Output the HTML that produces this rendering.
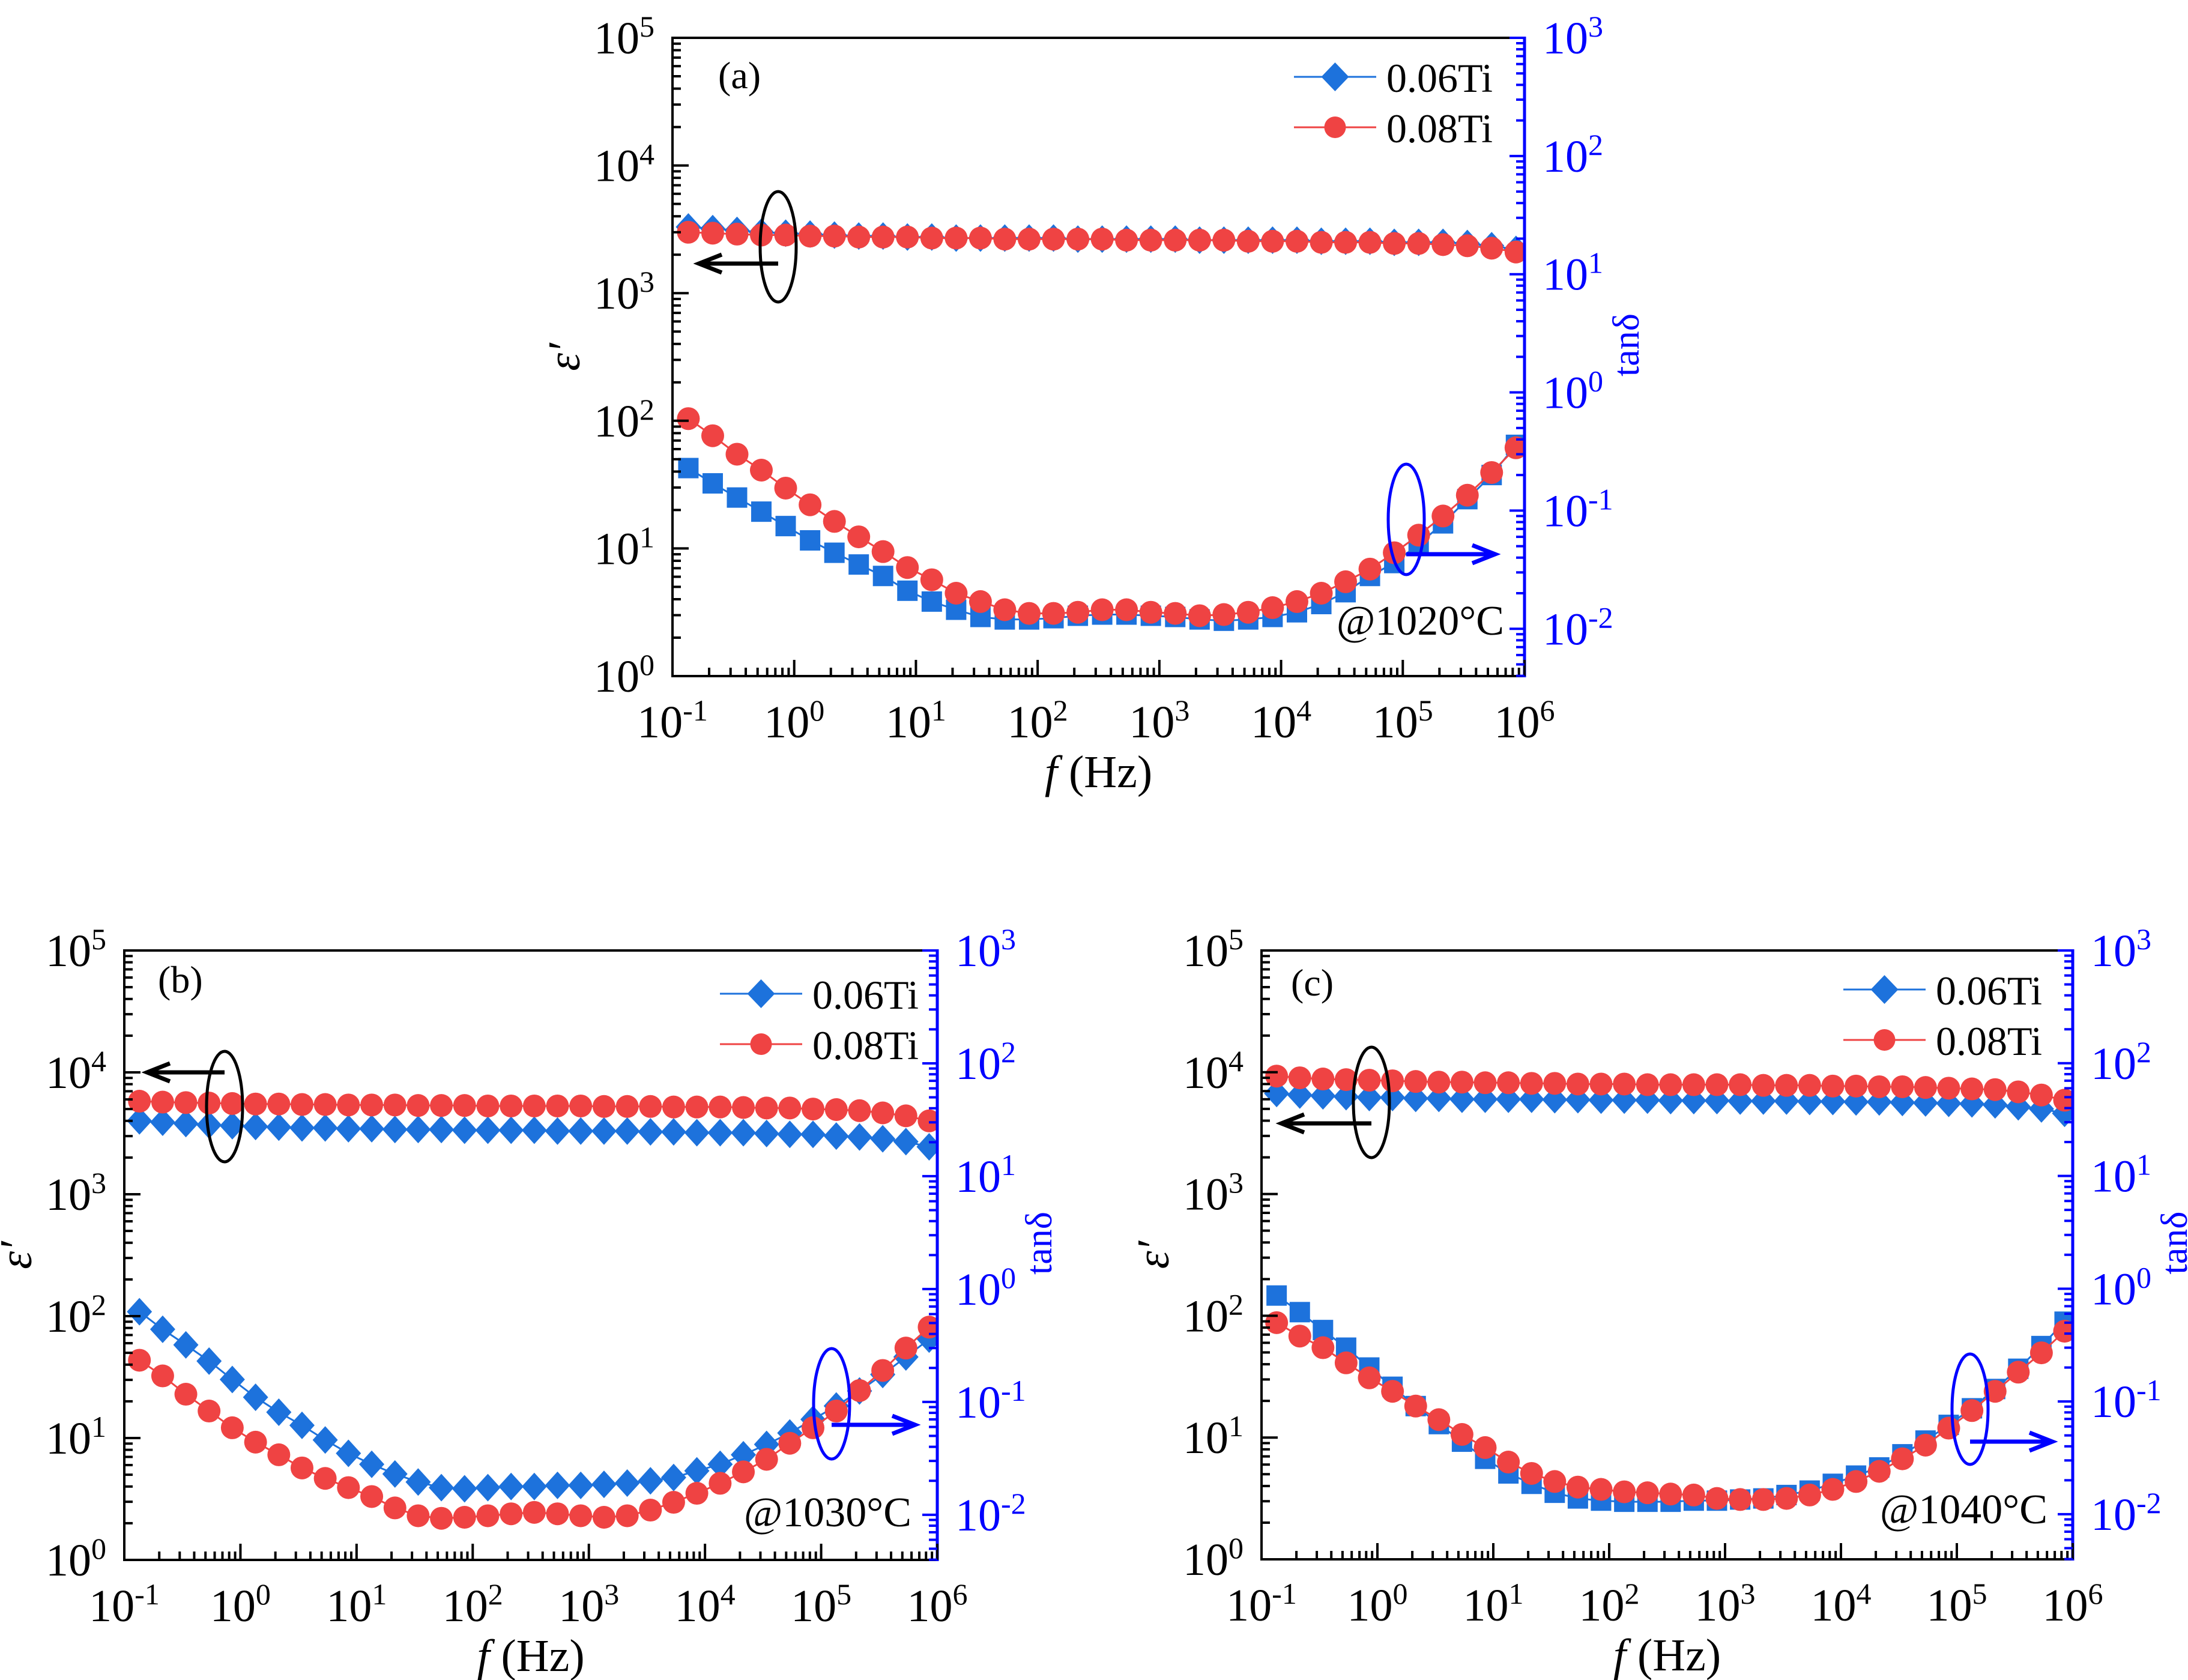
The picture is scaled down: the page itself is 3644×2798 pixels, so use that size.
<!DOCTYPE html>
<html><head><meta charset="utf-8"><style>
html,body{margin:0;padding:0;background:#fff;}
svg{display:block;font-family:"Liberation Serif","DejaVu Serif",serif;}
</style></head><body>
<svg id="fig" width="3644" height="2798" viewBox="0 0 3644 2798" xmlns="http://www.w3.org/2000/svg">
<rect width="3644" height="2798" fill="#fff"/>
</svg>
<script>
const freqs=[0.135,0.214,0.339,0.537,0.851,1.35,2.14,3.39,5.37,8.51,13.5,21.4,33.9,53.7,85.1,135,214,339,537,851,1350,2140,3390,5370,8510,13500,21400,33900,53700,85100,135000,214000,339000,537000,851000,1350000];
const epsA06=[3300,3200,3100,3000,2950,2900,2850,2800,2800,2750,2750,2700,2700,2700,2700,2700,2650,2650,2650,2650,2650,2600,2600,2600,2600,2600,2550,2550,2550,2500,2500,2500,2450,2350,2200,2000];
const epsA08=[3000,2950,2900,2850,2850,2800,2800,2750,2750,2750,2700,2700,2700,2650,2650,2650,2650,2650,2600,2600,2600,2600,2600,2550,2550,2550,2500,2500,2500,2450,2450,2400,2350,2250,2100,1900];
const tanA06=[0.229,0.170,0.129,0.098,0.074,0.056,0.044,0.035,0.028,0.021,0.017,0.0145,0.0126,0.0120,0.0120,0.0123,0.0129,0.0132,0.0132,0.0129,0.0126,0.0120,0.0117,0.0120,0.0126,0.0138,0.0162,0.0204,0.028,0.036,0.052,0.078,0.125,0.20,0.36,0.55];
const tanA08=[0.60,0.43,0.30,0.22,0.155,0.112,0.081,0.060,0.045,0.033,0.026,0.020,0.017,0.0145,0.0135,0.0135,0.0138,0.0145,0.0145,0.0138,0.0135,0.0129,0.0132,0.0138,0.0151,0.017,0.020,0.025,0.032,0.044,0.062,0.090,0.135,0.21,0.34,0.50];
const epsB06=[4000,3900,3800,3700,3650,3600,3550,3500,3500,3450,3450,3400,3400,3400,3350,3350,3350,3350,3300,3300,3300,3300,3250,3250,3200,3200,3200,3150,3100,3100,3000,2950,2850,2700,2450,2150];
const epsB08=[5800,5700,5650,5600,5550,5500,5500,5450,5450,5400,5400,5400,5350,5350,5350,5300,5300,5300,5300,5300,5250,5250,5250,5200,5200,5200,5150,5100,5100,5000,4950,4850,4650,4400,4000,3500];
const tanB06=[0.63,0.44,0.32,0.23,0.158,0.110,0.081,0.062,0.046,0.035,0.028,0.023,0.0195,0.0174,0.0170,0.0174,0.0178,0.0178,0.0182,0.0182,0.0186,0.0191,0.0200,0.0214,0.0245,0.028,0.034,0.042,0.053,0.070,0.092,0.125,0.175,0.25,0.36,0.50];
const tanB08=[0.234,0.170,0.117,0.083,0.059,0.044,0.034,0.026,0.021,0.0174,0.0145,0.0115,0.0098,0.0093,0.0095,0.0098,0.0102,0.0105,0.0102,0.0098,0.0095,0.0098,0.0110,0.0129,0.0155,0.019,0.024,0.031,0.043,0.059,0.083,0.126,0.19,0.30,0.46,0.66];
const epsC06=[6700,6500,6400,6300,6200,6200,6100,6100,6000,6000,6000,6000,5950,5950,5900,5900,5900,5850,5850,5850,5800,5800,5800,5750,5750,5700,5700,5650,5600,5550,5500,5400,5200,5000,4600,4000];
const epsC08=[9300,9000,8800,8700,8600,8500,8400,8300,8300,8200,8200,8100,8100,8000,8000,8000,7900,7900,7900,7900,7900,7800,7800,7800,7700,7700,7600,7600,7500,7400,7300,7200,6900,6500,5900,5000];
const tanC06=[0.87,0.62,0.43,0.30,0.20,0.135,0.091,0.063,0.044,0.031,0.023,0.0186,0.0155,0.0138,0.0132,0.0129,0.0129,0.0129,0.0132,0.0132,0.0135,0.0138,0.0148,0.0162,0.0186,0.022,0.026,0.034,0.045,0.062,0.087,0.129,0.195,0.31,0.51,0.85];
const tanC08=[0.50,0.38,0.30,0.22,0.162,0.123,0.091,0.069,0.051,0.039,0.029,0.023,0.0195,0.0174,0.0166,0.0158,0.0155,0.0151,0.0148,0.0138,0.0135,0.0135,0.0138,0.0148,0.0166,0.0195,0.024,0.031,0.041,0.058,0.083,0.123,0.182,0.27,0.42,0.60];
const xTickExps=[-1,0,1,2,3,4,5,6];
const epsTickExps=[0,1,2,3,4,5];
const tanTickExps=[-2,-1,0,1,2,3];
const seriesNames=['0.06Ti','0.08Ti'];
const tempLabels=['@1020\u00B0C','@1030\u00B0C','@1040\u00B0C'];

const NS='http://www.w3.org/2000/svg';
const svg=document.getElementById('fig');
const BLUE='#1d72dc', RED='#ef4343', AX='#0000ff';
function mk(tag,attrs,parent){const e=document.createElementNS(NS,tag);for(const k in attrs)e.setAttribute(k,attrs[k]);(parent||svg).appendChild(e);return e;}

function panel(p){
  const g=mk('g',{});
  
  
  const L=p.L,R=p.R,T=p.T,B=p.B;
  const xs=v=>L+(Math.log10(v)+1)/7*(R-L);
  const ye=v=>B-(Math.log10(v))/5*(B-T);
  const yt=v=>B-(Math.log10(v)+2.4)/5.4*(B-T);
  const cid='clip'+p.id;
  const cp=mk('clipPath',{id:cid},g);mk('rect',{x:L,y:T,width:R-L,height:B-T},cp);
  const data=mk('g',{'clip-path':'url(#'+cid+')'},g);
  function series(vals,scale,color,shape,name){
    const sg=mk('g',{},data);
    
    
    const pts=vals.map((v,i)=>[xs(freqs[i]),scale(v)]);
    mk('polyline',{points:pts.map(q=>q.join(',')).join(' '),fill:'none',stroke:color,'stroke-width':3},sg);
    pts.forEach(q=>{
      let m;
      if(shape==='circle')m=mk('circle',{cx:q[0],cy:q[1],r:19,fill:color},sg);
      else if(shape==='diamond')m=mk('polygon',{points:`${q[0]},${q[1]-23} ${q[0]+21},${q[1]} ${q[0]},${q[1]+23} ${q[0]-21},${q[1]}`,fill:color},sg);
      else m=mk('rect',{x:q[0]-17,y:q[1]-17,width:34,height:34,fill:color},sg);
      
      
    });
  }
  series(p.e06,ye,BLUE,'diamond','eps-series-006ti');
  series(p.e08,ye,RED,'circle','eps-series-008ti');
  series(p.t06,yt,BLUE,p.tanShape,'tan-series-006ti');
  series(p.t08,yt,RED,'circle','tan-series-008ti');
  mk('line',{x1:L,y1:T,x2:R,y2:T,stroke:'#000','stroke-width':4},g);
  mk('line',{x1:L,y1:B,x2:R,y2:B,stroke:'#000','stroke-width':4},g);
  const la=mk('line',{x1:L,y1:T-2,x2:L,y2:B+2,stroke:'#000','stroke-width':4},g);
  
  const ra=mk('line',{x1:R,y1:T-2,x2:R,y2:B+2,stroke:AX,'stroke-width':5},g);
  
  xTickExps.forEach(ex=>{
    const x=xs(Math.pow(10,ex));
    mk('line',{x1:x,y1:B,x2:x,y2:B-27,stroke:'#000','stroke-width':4},g);
    if(ex<6)for(let k=2;k<=9;k++){const xm=xs(k*Math.pow(10,ex));mk('line',{x1:xm,y1:B,x2:xm,y2:B-14,stroke:'#000','stroke-width':4},g);}
    const t=mk('text',{x:x,y:B+102,'font-size':76,'text-anchor':'middle',fill:'#000'},g);
    
    t.appendChild(document.createTextNode('10'));
    const s=mk('tspan',{dy:-28,'font-size':50},t);s.textContent=String(ex);
  });
  epsTickExps.forEach(ex=>{
    const y=ye(Math.pow(10,ex));
    mk('line',{x1:L,y1:y,x2:L+27,y2:y,stroke:'#000','stroke-width':4},g);
    if(ex<5)for(let k=2;k<=9;k++){const ym=ye(k*Math.pow(10,ex));mk('line',{x1:L,y1:ym,x2:L+14,y2:ym,stroke:'#000','stroke-width':4},g);}
    const t=mk('text',{x:L-30,y:y+26,'font-size':76,'text-anchor':'end',fill:'#000'},g);
    
    t.appendChild(document.createTextNode('10'));
    const s=mk('tspan',{dy:-28,'font-size':50},t);s.textContent=String(ex);
  });
  [-3,-2,-1,0,1,2,3].forEach(ex=>{
    const y=yt(Math.pow(10,ex));
    if(ex>=-2){mk('line',{x1:R,y1:y,x2:R-25,y2:y,stroke:AX,'stroke-width':4},g);}
    for(let k=2;k<=9;k++){const v=k*Math.pow(10,ex);const ym=yt(v);if(ym>T&&ym<B)mk('line',{x1:R,y1:ym,x2:R-14,y2:ym,stroke:AX,'stroke-width':4},g);}
  });
  tanTickExps.forEach(ex=>{
    const y=yt(Math.pow(10,ex));
    const t=mk('text',{x:R+30,y:y+26,'font-size':76,fill:AX},g);
    
    t.appendChild(document.createTextNode('10'));
    const s=mk('tspan',{dy:-28,'font-size':50},t);s.textContent=String(ex);
  });
  const xt=mk('text',{x:(L+R)/2,y:B+185,'font-size':76,'text-anchor':'middle',fill:'#000'},g);
  
  const fi=mk('tspan',{'font-style':'italic'},xt);fi.textContent='f';
  xt.appendChild(document.createTextNode('\u00A0(Hz)'));
  const ytl=mk('text',{x:0,y:0,'font-size':76,'font-style':'italic','text-anchor':'middle',transform:`translate(${L-155},${(T+B)/2}) rotate(-90)`,fill:'#000'},g);
  
  ytl.textContent='\u03B5\u2032';
  const y2=mk('text',{x:0,y:0,'font-size':62,'text-anchor':'middle',transform:`translate(${R+190},${(T+B)/2-20}) rotate(-90)`,fill:AX},g);
  
  y2.textContent='tan\u03B4';
  const pl=mk('text',{x:p.lab[0],y:p.lab[1],'font-size':64,fill:'#000'},g);
  
  pl.textContent='('+p.id+')';
  const tl=mk('text',{x:p.temp[0],y:p.temp[1],'font-size':70,'text-anchor':'end',fill:'#000'},g);
  
  tl.textContent=p.tempText;
  const lg=mk('g',{},g);
  
  [[BLUE,'diamond',seriesNames[0]],[RED,'circle',seriesNames[1]]].forEach((e,i)=>{
    const y=p.leg[1]+i*84, x0=p.leg[0], x1=p.leg[0]+137, xc=(x0+x1)/2;
    const eg=mk('g',{},lg);
    
    mk('line',{x1:x0,y1:y,x2:x1,y2:y,stroke:e[0],'stroke-width':3},eg);
    if(e[1]==='circle')mk('circle',{cx:xc,cy:y,r:18,fill:e[0]},eg);
    else mk('polygon',{points:`${xc},${y-24} ${xc+23},${y} ${xc},${y+24} ${xc-23},${y}`,fill:e[0]},eg);
    const t=mk('text',{x:x1+17,y:y+25,'font-size':68,fill:'#000'},eg);t.textContent=e[2];
  });
  function ann(c,arrow,color,name){
    const a=mk('g',{},g);
    
    mk('ellipse',{cx:c[0],cy:c[1],rx:30,ry:92,fill:'none',stroke:color,'stroke-width':5},a);
    const [x1,y1,x2,y2]=arrow;
    mk('line',{x1:x1,y1:y1,x2:x2,y2:y2,stroke:color,'stroke-width':7},a);
    const d=x2>x1?1:-1;
    mk('polyline',{points:`${x2-d*38},${y2-15} ${x2},${y2} ${x2-d*38},${y2+15}`,fill:'none',stroke:color,'stroke-width':7},a);
  }
  ann(p.bEll,p.bArr,'#000','eps-indicator');
  ann(p.uEll,p.uArr,AX,'tan-indicator');
}

panel({id:'a',L:1120,R:2539,T:63,B:1126,e06:epsA06,e08:epsA08,t06:tanA06,t08:tanA08,tanShape:'square',
  lab:[1196,147],temp:[2505,1057],tempText:tempLabels[0],leg:[2155,128],
  bEll:[1296,411],bArr:[1296,439,1164,439],uEll:[2342,865],uArr:[2342,923,2490,923]});
panel({id:'b',L:207,R:1561,T:1583,B:2598,e06:epsB06,e08:epsB08,t06:tanB06,t08:tanB08,tanShape:'diamond',
  lab:[263,1653],temp:[1518,2542],tempText:tempLabels[1],leg:[1199,1655],
  bEll:[374,1843],bArr:[374,1786,245,1786],uEll:[1385,2338],uArr:[1385,2373,1524,2373]});
panel({id:'c',L:2101,R:3452,T:1583,B:2597,e06:epsC06,e08:epsC08,t06:tanC06,t08:tanC08,tanShape:'square',
  lab:[2150,1658],temp:[3410,2537],tempText:tempLabels[2],leg:[3070,1648],
  bEll:[2284,1836],bArr:[2284,1871,2134,1871],uEll:[3281,2347],uArr:[3281,2401,3418,2401]});
</script>
</body></html>
